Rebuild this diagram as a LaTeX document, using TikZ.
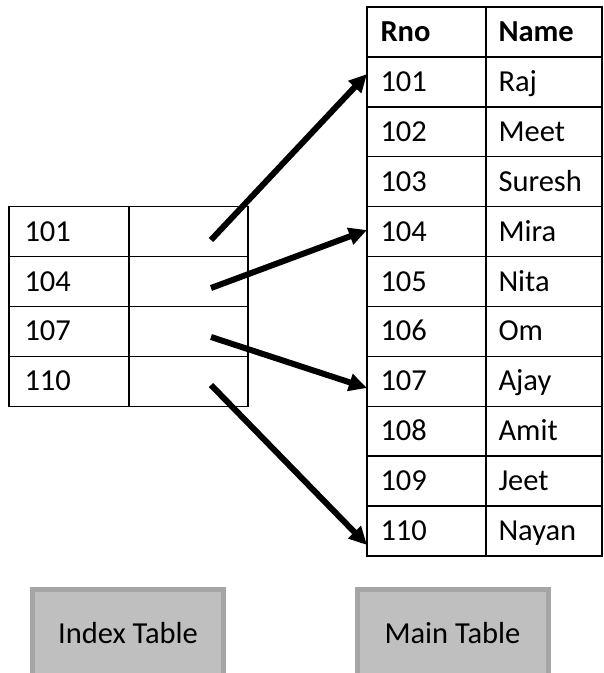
\documentclass[tikz,border=0pt]{standalone}
\usepackage{fontspec}
\setmainfont{Carlito}
\usetikzlibrary{arrows.meta}
\definecolor{boxfill}{HTML}{BFBFBF}
\definecolor{boxline}{HTML}{A5A5A5}
\tikzset{
  cell/.style={draw=black, line width=1.4pt, minimum height=49.9pt, inner sep=0pt},
  txt/.style={anchor=west, inner sep=0pt, font=\fontsize{30.5}{36}\selectfont,
    text height=25.3pt, text depth=6.1pt},
  ptr/.style={line width=6pt, -{Triangle[length=18pt,width=17pt]}},
  caption/.style={draw=boxline, fill=boxfill, line width=5pt, minimum width=191pt,
    minimum height=88pt, inner sep=0pt, font=\fontsize{30.5}{36}\selectfont,
    text height=25.3pt, text depth=6.1pt}
}
\begin{document}
\begin{tikzpicture}[x=1pt,y=-1pt]
\useasboundingbox (0,0) rectangle (604,673);
% main table
\foreach \k/\a/\b in {0/Rno/Name,1/101/Raj,2/102/Meet,3/103/Suresh,4/104/Mira,5/105/Nita,6/106/Om,7/107/Ajay,8/108/Amit,9/109/Jeet,10/110/Nayan}{
  \pgfmathsetmacro{\yc}{7+49.9*(\k+0.5)}
  \node[cell, minimum width=119pt] (ma\k) at (426.5,\yc) {};
  \node[cell, minimum width=116pt] (mb\k) at (544,\yc) {};
  \ifnum\k=0
    \node[txt] (la\k) at ([xshift=14pt]ma\k.west) {\bfseries\a};
    \node[txt] (lb\k) at ([xshift=13pt]mb\k.west) {\bfseries\b};
  \else
    \node[txt] (la\k) at ([xshift=14pt]ma\k.west) {\a};
    \node[txt] (lb\k) at ([xshift=13pt]mb\k.west) {\b};
  \fi
}
% index table
\foreach \i/\a in {0/101,1/104,2/107,3/110}{
  \pgfmathsetmacro{\yc}{206.6+49.9*(\i+0.5)}
  \node[cell, minimum width=120pt] (ia\i) at (69,\yc) {};
  \node[cell, minimum width=119pt] (ib\i) at (188.5,\yc) {};
  \node[txt] (li\i) at ([xshift=16pt]ia\i.west) {\a};
}
% pointer ends
\coordinate (s0) at (211,240);
\coordinate (s1) at (211,288);
\coordinate (s2) at (211,337);
\coordinate (s3) at (211,385);
\coordinate (t0) at (367,74);
\coordinate (t1) at (367,230);
\coordinate (t2) at (367,388);
\coordinate (t3) at (367,545);
\foreach \i in {0,1,2,3}{
  \draw[ptr] (s\i) -- (t\i);
}
% captions
\node[caption] (cidx) at (128,633.5) {Index Table};
\node[caption] (cmain) at (452.5,633.5) {Main Table};
\end{tikzpicture}
\end{document}
